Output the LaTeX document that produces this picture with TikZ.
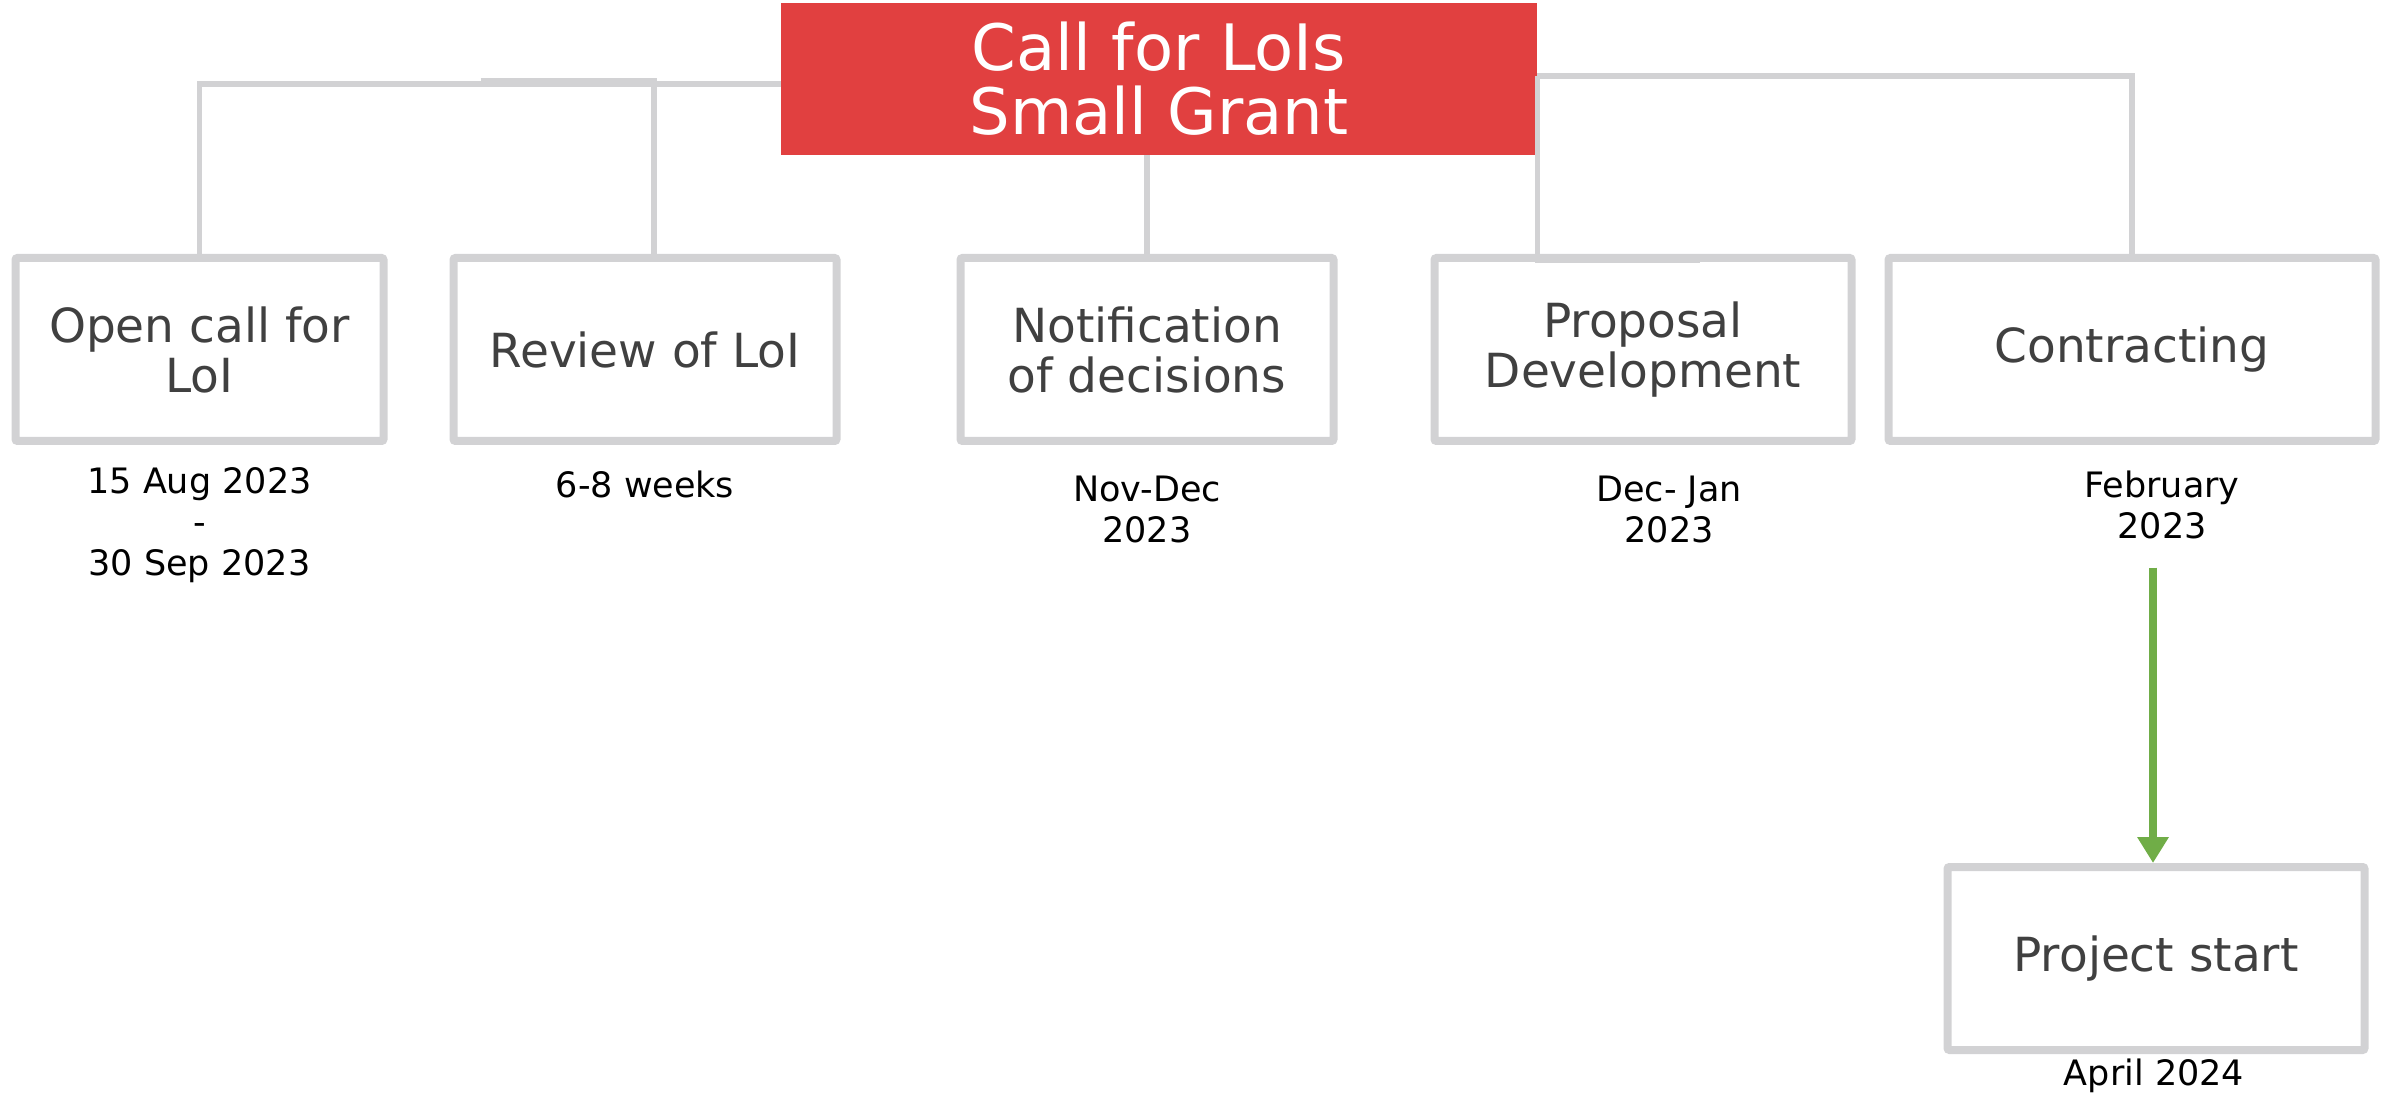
\documentclass[tikz,border=0pt]{standalone}
\usepackage{fontspec}
\setmainfont{DejaVu Sans}
\usetikzlibrary{positioning}
\usetikzlibrary{arrows.meta}
\definecolor{callred}{RGB}{225,64,64}
\definecolor{boxgray}{RGB}{210,210,212}
\definecolor{textgray}{RGB}{64,64,64}
\definecolor{flowgreen}{RGB}{112,173,71}
\tikzset{
	callbox/.style={rectangle, fill=callred, text=white, inner sep=0pt, minimum width=378pt, minimum height=76pt, align=center, font=\fontsize{32}{32}\selectfont},
	stage/.style={draw=boxgray, line width=4pt, rectangle, rounded corners=1pt, inner sep=2pt, minimum height=91.5pt, align=center, text=textgray, font=\fontsize{23.5}{25}\selectfont},
	% dates under the boxes
	date/.style={inner sep=0pt, align=center, font=\fontsize{17.5}{20.5}\selectfont},
	link/.style={draw=boxgray, line width=2.8pt},
	flow/.style={draw=flowgreen, line width=3.8pt, -{Triangle[width=15pt, length=13pt]}},
}
\begin{document}
\begin{tikzpicture}[node distance=80pt]
	\useasboundingbox (0,0) rectangle (1193pt,-547.5pt);
	
	\node (call) [callbox] at (579.5pt,-39.5pt) {Call for LoIs\\Small Grant};
	
	\node (open) [stage, minimum width=184pt] at (99.75pt,-174.75pt) {Open call for\\LoI};
	\node (review) [stage, minimum width=191.5pt, right of=open, xshift=142.75pt] {Review of LoI};
	\node (notify) [stage, minimum width=186.5pt, right of=review, xshift=171pt] {Notification\\of decisions};
	\node (proposal) [stage, minimum width=208.5pt, right of=notify, xshift=168pt] {Proposal\\Development};
	\node (contract) [stage, minimum width=243.5pt, right of=proposal, xshift=164.5pt] {Contracting};
	\node (start) [stage, minimum width=208.5pt, below of=contract, xshift=12pt, yshift=-224.5pt] {Project start};
	
	\node (d1) [date, below of=open, yshift=-7.75pt] {15 Aug 2023\\-\\30 Sep 2023};
	\node (d2) [date, below of=review, yshift=12.75pt] {6-8 weeks};
	\node (d3) [date, below of=notify] {Nov-Dec\\2023};
	\node (d4) [date, below of=proposal, xshift=13pt] {Dec- Jan\\2023};
	\node (d5) [date, below of=contract, xshift=15pt, yshift=2.5pt] {February\\2023};
	\node (d6) [date, below of=start, xshift=-1pt, yshift=21.25pt] {April 2024};
	
	\coordinate (go) at (1076.5pt,-283.8pt);
	
	\begin{scope}[link]
		\draw ([yshift=-2.5pt]call.west) -| (open.north);
		\draw ([xshift=-150pt, yshift=-1pt]call.west) -| ([xshift=4.5pt]review.north);
		\draw (call.south -| notify.north) -- (notify.north);
		\draw ([yshift=1.5pt]call.east) -| (contract.north);
		\draw ([yshift=1.5pt]call.east) |- ([xshift=28.5pt, yshift=-3pt]proposal.north);
	\end{scope}
	
	\draw [flow] (go) -- (go |- start.north);
	
\end{tikzpicture}
\end{document}
